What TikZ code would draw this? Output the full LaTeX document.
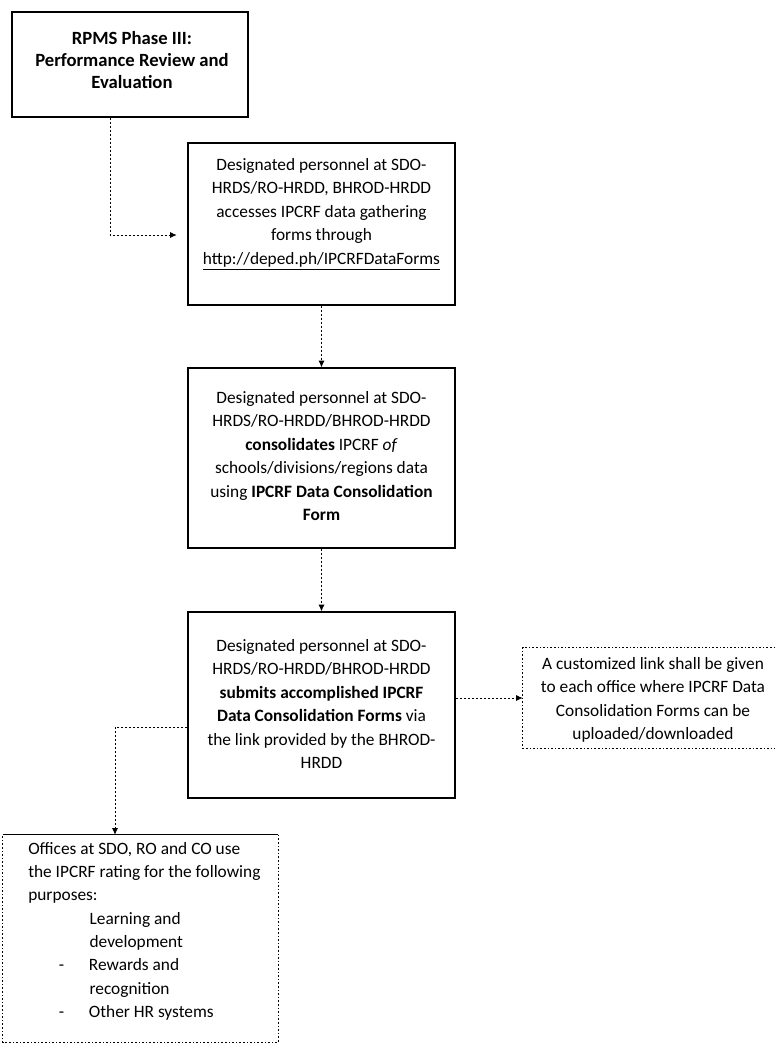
\documentclass[tikz,border=0pt]{standalone}
\usepackage{fontspec}
\setmainfont{Carlito}
\usetikzlibrary{arrows.meta}
\begin{document}
\begin{tikzpicture}[x=0.75pt,y=-0.75pt,
  box/.style={draw=black,line width=0.9pt,inner sep=0pt},
  plain/.style={inner sep=0pt},
  txt/.style={align=center,inner sep=0pt,font=\fontsize{13}{17.6}\selectfont},
  conn/.style={draw=black,line width=0.6pt,dash pattern=on 1.5pt off 1.5pt,-{Latex[length=5pt,width=4.5pt]}},
  side/.style={draw=black,line width=0.7pt,dash pattern=on 1.2pt off 1.5pt}]
\useasboundingbox (0,0) rectangle (782,1043);
% boxes
\node[box,minimum width=177pt,minimum height=78.75pt] (B1) at (130,64.5) {};
\node[txt,font=\bfseries\fontsize{14}{16.5}\selectfont] (T1) at (132,60) {RPMS Phase III:\\Performance Review and\\Evaluation};
\node[box,minimum width=200.25pt,minimum height=121.5pt] (B2) at (321.5,224) {};
\node[txt] (T2) at (321.5,214) {Designated personnel at SDO-\\HRDS/RO-HRDD, BHROD-HRDD\\accesses IPCRF data gathering\\forms through\\\underline{http://deped.ph/IPCRFDataForms}};
\node[box,minimum width=200.25pt,minimum height=135pt] (B3) at (321.5,458) {};
\node[txt] (T3) at (321.5,456) {Designated personnel at SDO-\\HRDS/RO-HRDD/BHROD-HRDD\\\textbf{consolidates} IPCRF \textit{of}\\schools/divisions/regions data\\using \textbf{IPCRF Data Consolidation}\\\textbf{Form}};
\node[box,minimum width=200.25pt,minimum height=139.5pt] (B4) at (321.5,705) {};
\node[txt] (T4) at (321.5,704) {Designated personnel at SDO-\\HRDS/RO-HRDD/BHROD-HRDD\\\textbf{submits accomplished IPCRF}\\\textbf{Data Consolidation Forms} via\\the link provided by the BHROD-\\HRDD};
\node[plain,minimum width=189pt,minimum height=75pt] (R) at (649,698) {};
\draw[side] (R.north east) -- (R.north west) -- (R.south west) -- (R.south east);
\node[txt] (TR) at (653,700) {A customized link shall be given\\to each office where IPCRF Data\\Consolidation Forms can be\\uploaded/downloaded};
\node[plain,minimum width=206.25pt,minimum height=155.25pt] (B5) at (140.5,938.5) {};
\draw[line width=0.9pt] (B5.north west) -- (B5.north east);
\draw[side] (B5.north east) -- (B5.south east) -- (B5.south west) -- (B5.north west);
\node[txt,align=left,anchor=north west,font=\fontsize{13}{17.5}\selectfont] (T5) at (28,842) {Offices at SDO, RO and CO use\\the IPCRF rating for the following\\purposes:\\\hspace*{46pt}Learning and\\\hspace*{46pt}development\\\hspace*{23pt}-\hspace*{18.5pt}Rewards and\\\hspace*{46pt}recognition\\\hspace*{23pt}-\hspace*{18.5pt}Other HR systems};
% connectors
\coordinate (k1) at (110,235);
\draw[conn,shorten >=8pt] (k1 |- B1.south) -- (k1) -- (k1 -| B2.west);
\draw[conn] (B2.south) -- (B3.north);
\draw[conn] (B3.south) -- (B4.north);
\draw[conn] (B4.east |- R.west) -- (R.west);
\coordinate (k3) at (115,727);
\draw[conn] (k3 -| B4.west) -- (k3) -- (k3 |- B5.north);
\end{tikzpicture}
\end{document}
